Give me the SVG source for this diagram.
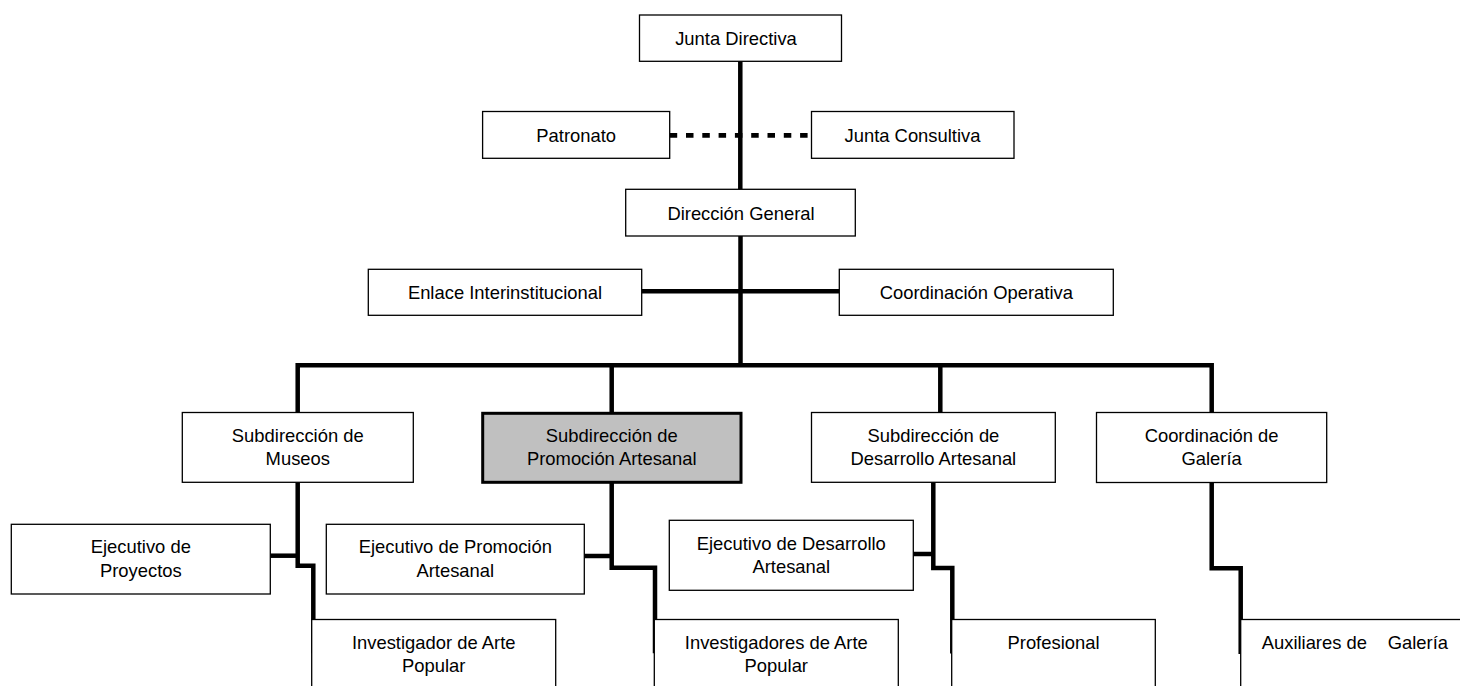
<svg xmlns="http://www.w3.org/2000/svg" width="1460" height="686" viewBox="0 0 1460 686">
<style>
  .box { fill: #ffffff; stroke: #000000; stroke-width: 1.3; }
  .hl { fill: #c0c0c0; stroke: #000000; stroke-width: 3; }
  .t { font-family: "Liberation Sans", Arial, sans-serif; font-size: 18.4px; fill: #000000; text-anchor: middle; }
  .ts { text-anchor: start; }
  .c { fill: none; stroke: #000000; stroke-width: 4.5; stroke-linejoin: miter; stroke-linecap: butt; }
  .d { fill: none; stroke: #000000; stroke-width: 4.7; stroke-dasharray: 7.5 8.8; }
</style>
<rect width="1460" height="686" fill="#ffffff"/>

<g id="connectors">
  <path class="c" d="M740.3 61 V189.3"/>
  <path class="d" d="M669.7 135.3 H811.5"/>
  <path class="c" d="M740.5 236 V365.3"/>
  <path class="c" stroke-width="4.3" d="M641.7 291.3 H839.3"/>
  <path class="c" d="M297.7 412.5 V365.3 H1211.7 V412.5"/>
  <path class="c" d="M611.7 365.3 V413.3"/>
  <path class="c" d="M940.3 365.3 V412.5"/>
  <path class="c" d="M297.7 482.3 V565.7 H313.3 V653.3"/>
  <path class="c" d="M270.3 555.7 H297.7"/>
  <path class="c" d="M611.7 482.3 V567.7 H655 V653.3"/>
  <path class="c" d="M584.3 556 H611.7"/>
  <path class="c" d="M933.3 482.3 V568 H952.3 V653.5"/>
  <path class="c" d="M913.3 554 H933.3"/>
  <path class="c" d="M1211.7 482.5 V568.3 H1240.7 V654"/>
</g>

<g id="junta-directiva">
  <rect class="box" x="639.5" y="15" width="202" height="46.3"/>
  <text class="t" x="736" y="45">Junta Directiva</text>
</g>
<g id="patronato">
  <rect class="box" x="482.6" y="111.5" width="187.1" height="46.8"/>
  <text class="t" x="576.2" y="141.5">Patronato</text>
</g>
<g id="junta-consultiva">
  <rect class="box" x="811.5" y="111.5" width="202.5" height="46.8"/>
  <text class="t" x="912.5" y="141.5">Junta Consultiva</text>
</g>
<g id="direccion-general">
  <rect class="box" x="625.7" y="189.3" width="229.6" height="46.7"/>
  <text class="t" x="741" y="219.5">Dirección General</text>
</g>
<g id="enlace-interinstitucional">
  <rect class="box" x="368.3" y="269.3" width="273.4" height="46"/>
  <text class="t" x="505" y="299">Enlace Interinstitucional</text>
</g>
<g id="coordinacion-operativa">
  <rect class="box" x="839.3" y="269.3" width="274" height="46"/>
  <text class="t" x="976.3" y="299">Coordinación Operativa</text>
</g>

<g id="subdireccion-museos">
  <rect class="box" x="182.3" y="412.5" width="231" height="69.8"/>
  <text class="t" x="297.8" y="442.4">Subdirección de</text>
  <text class="t" x="297.8" y="465">Museos</text>
</g>
<g id="subdireccion-promocion">
  <rect class="hl" x="482.7" y="413.3" width="258.3" height="69"/>
  <text class="t" x="611.8" y="442.4">Subdirección de</text>
  <text class="t" x="611.8" y="465">Promoción Artesanal</text>
</g>
<g id="subdireccion-desarrollo">
  <rect class="box" x="811.5" y="412.5" width="243.8" height="69.8"/>
  <text class="t" x="933.4" y="442.4">Subdirección de</text>
  <text class="t" x="933.4" y="465">Desarrollo Artesanal</text>
</g>
<g id="coordinacion-galeria">
  <rect class="box" x="1096.5" y="412.5" width="230.2" height="70"/>
  <text class="t" x="1211.6" y="442.4">Coordinación de</text>
  <text class="t" x="1211.6" y="465">Galería</text>
</g>

<g id="ejecutivo-proyectos">
  <rect class="box" x="11.3" y="524.3" width="259" height="69.7"/>
  <text class="t" x="140.8" y="553.4">Ejecutivo de</text>
  <text class="t" x="140.8" y="576.6">Proyectos</text>
</g>
<g id="ejecutivo-promocion">
  <rect class="box" x="326.3" y="524.3" width="258" height="69.7"/>
  <text class="t" x="455.3" y="553.4">Ejecutivo de Promoción</text>
  <text class="t" x="455.3" y="576.6">Artesanal</text>
</g>
<g id="ejecutivo-desarrollo">
  <rect class="box" x="669.3" y="520.3" width="244" height="70"/>
  <text class="t" x="791.3" y="550">Ejecutivo de Desarrollo</text>
  <text class="t" x="791.3" y="572.7">Artesanal</text>
</g>

<g id="investigador-arte-popular">
  <rect class="box" x="311.7" y="619.5" width="244" height="70"/>
  <text class="t" x="433.7" y="649">Investigador de Arte</text>
  <text class="t" x="433.7" y="671.7">Popular</text>
</g>
<g id="investigadores-arte-popular">
  <rect class="box" x="654.3" y="619.5" width="244" height="70"/>
  <text class="t" x="776.3" y="649">Investigadores de Arte</text>
  <text class="t" x="776.3" y="671.7">Popular</text>
</g>
<g id="profesional">
  <rect class="box" x="951.7" y="619.5" width="203.6" height="70"/>
  <text class="t" x="1053.5" y="649">Profesional</text>
</g>
<g id="auxiliares-galeria">
  <rect class="box" x="1240.7" y="619.5" width="260" height="70"/>
  <text class="t ts" x="1261.7" y="649">Auxiliares de<tspan x="1387.7">Galería</tspan></text>
</g>
</svg>
